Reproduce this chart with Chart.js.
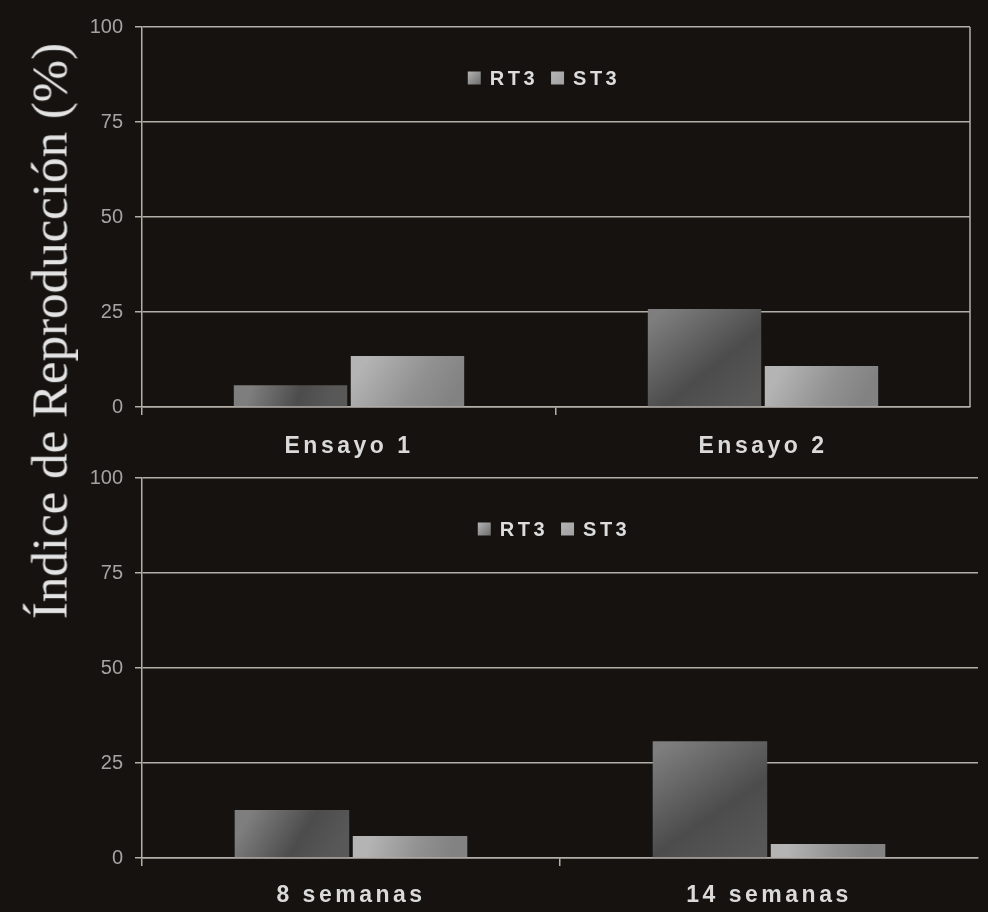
<!DOCTYPE html>
<html>
<head>
<meta charset="utf-8">
<script src="https://cdn.jsdelivr.net/npm/chart.js@4.4.1/dist/chart.umd.min.js"></script>
<style>
  html, body { margin: 0; padding: 0; background: #15120f; }
  #page { position: relative; width: 988px; height: 912px; overflow: hidden; background: #15120f; }
  .box { position: absolute; left: 0; width: 988px; }
  #topBox { top: 0; height: 467px; }
  #bottomBox { top: 451px; height: 461px; }
  #ytitle {
    position: absolute; left: 50px; top: 331px;
    transform: translate(-50%, -50%) rotate(-90deg);
    font-family: "Liberation Serif", "DejaVu Serif", serif;
    font-size: 51px; line-height: 51px; color: #e4e4e4; white-space: nowrap;
  }
</style>
</head>
<body>
<div id="page">
  <div class="box" id="topBox"><canvas id="topChart"></canvas></div>
  <div class="box" id="bottomBox"><canvas id="bottomChart"></canvas></div>
  <div id="ytitle">Índice de Reproducción (%)</div>
</div>
<script>
// data
const seriesNames = ['RT3', 'ST3'];
const trialLabels = ['Ensayo 1', 'Ensayo 2'];
const trialRT3 = [5.7, 25.8];
const trialST3 = [13.4, 10.8];
const weekLabels = ['8 semanas', '14 semanas'];
const weekRT3 = [12.6, 30.7];
const weekST3 = [5.8, 3.7];
const yTickStep = 25;
const yMax = 100;

const gridColor = '#b3afa8';
const sansFont = '"Liberation Sans", Arial, sans-serif';
const rt3Stops = [[0, '#7e7e7e'], [0.6, '#4c4c4c'], [1, '#585858']];
const st3Stops = [[0, '#b4b4b4'], [0.6, '#919191'], [1, '#828282']];
const legendSwatch = ['#6c6c6c', '#a0a0a0'];

function barShade(stops) {
  return (c) => {
    const { chart, dataIndex, parsed } = c;
    const area = chart.chartArea;
    if (c.type !== 'data' || !area || !parsed) return stops[1][1];
    const { x, y } = chart.scales;
    const half = (area.right - area.left) / chart.data.labels.length * 0.565 / 2;
    const cx = x.getPixelForValue(dataIndex) + (c.datasetIndex === 0 ? -half / 2 : half / 2);
    const top = y.getPixelForValue(parsed.y);
    const base = y.getPixelForValue(0);
    if (![cx, top, base, half].every(Number.isFinite)) return stops[1][1];
    const g = chart.ctx.createLinearGradient(cx - half / 3, top, cx + half / 3, base);
    stops.forEach(([p, col]) => g.addColorStop(p, col));
    return g;
  };
}

// category labels and in-plot legend, drawn with letter spacing
const decor = {
  id: 'decor',
  afterDraw(chart, args, opts) {
    const { ctx, chartArea: area, scales: { x } } = chart;
    ctx.save();
    ctx.letterSpacing = '3.5px';
    ctx.fillStyle = '#dadada';
    ctx.textAlign = 'center';
    ctx.textBaseline = 'middle';
    ctx.font = 'bold 23px ' + sansFont;
    chart.data.labels.forEach((lab, i) => {
      ctx.fillText(lab, x.getPixelForValue(i), area.bottom + opts.labelGap);
    });

    // legend
    ctx.letterSpacing = '3.5px';
    ctx.font = 'bold 20px ' + sansFont;
    ctx.textAlign = 'left';
    const box = 13, gapBox = 9, gapItem = 13;
    const items = chart.data.datasets.map((d) => ({ text: d.label, w: ctx.measureText(d.label).width }));
    const total = items.reduce((s, it) => s + box + gapBox + it.w, 0) + gapItem * (items.length - 1);
    let lx = (area.left + area.right) / 2 - total / 2 + opts.legendShift;
    const ly = area.top + opts.legendDrop;
    items.forEach((it, i) => {
      const g = ctx.createLinearGradient(lx, ly - box / 2, lx + box, ly + box / 2);
      g.addColorStop(0, '#b5b5b5');
      g.addColorStop(1, legendSwatch[i]);
      ctx.fillStyle = g;
      ctx.fillRect(lx, ly - box / 2, box, box);
      ctx.fillStyle = '#dcdcdc';
      ctx.fillText(it.text, lx + box + gapBox, ly + 1);
      lx += box + gapBox + it.w + gapItem;
    });

    if (opts.frame) {
      ctx.strokeStyle = gridColor;
      ctx.lineWidth = 1.5;
      ctx.beginPath();
      ctx.moveTo(area.right, area.top);
      ctx.lineTo(area.right, area.bottom);
      ctx.stroke();
    }
    ctx.restore();
  }
};

function makeChart(id, labels, rt3, st3, cfg) {
  return new Chart(document.getElementById(id), {
    type: 'bar',
    data: {
      labels,
      datasets: [
        { label: seriesNames[0], data: rt3, backgroundColor: barShade(rt3Stops) },
        { label: seriesNames[1], data: st3, backgroundColor: barShade(st3Stops) }
      ]
    },
    options: {
      responsive: true,
      maintainAspectRatio: false,
      animation: false,
      categoryPercentage: 0.565,
      barPercentage: 0.97,
      layout: { padding: { top: 27, right: cfg.right, left: 0, bottom: 0 } },
      plugins: {
        legend: { display: false },
        tooltip: { enabled: false },
        decor: { labelGap: cfg.labelGap, legendDrop: 51, legendShift: cfg.legendShift, frame: cfg.frame }
      },
      scales: {
        x: {
          grid: {
            offset: true, drawOnChartArea: false, tickLength: 8, color: gridColor, lineWidth: 1.5,
            // the closing boundary has no tick context: leave it unmarked
            tickColor: (c) => (c.tick ? gridColor : 'rgba(0,0,0,0)')
          },
          border: { color: gridColor, width: 1.5 },
          ticks: { display: false },
          afterFit: (s) => { s.height = cfg.xHeight; }
        },
        y: {
          min: 0,
          max: yMax,
          ticks: { stepSize: yTickStep, color: '#a4a4a4', padding: 12, font: { family: sansFont, size: 20 } },
          grid: { color: gridColor, lineWidth: 1.5, tickLength: 7 },
          border: { color: gridColor, width: 1.5 },
          afterFit: (s) => { s.width = 142; }
        }
      }
    },
    plugins: [decor]
  });
}

makeChart('topChart', trialLabels, trialRT3, trialST3, { right: 18, xHeight: 60, labelGap: 40, legendShift: -12, frame: true });
makeChart('bottomChart', weekLabels, weekRT3, weekST3, { right: 10, xHeight: 54, labelGap: 38, legendShift: -6, frame: false });
</script>
</body>
</html>
